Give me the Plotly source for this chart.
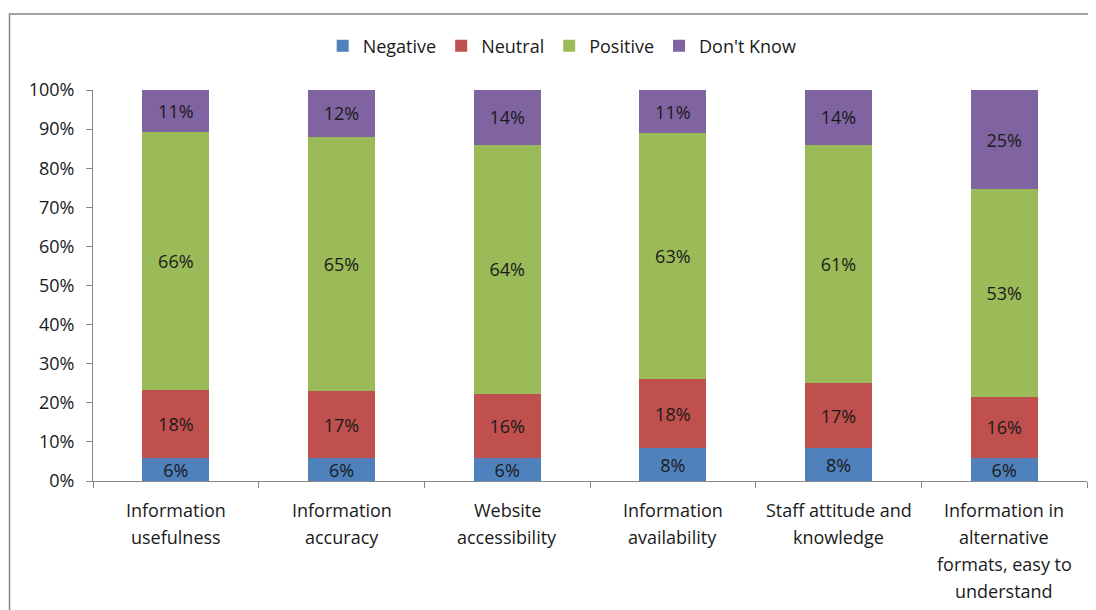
import plotly.graph_objects as go

categories = [
    "Information usefulness",
    "Information accuracy",
    "Website accessibility",
    "Information availability",
    "Staff attitude and knowledge",
    "Information in alternative formats, easy to understand",
]
label_lines = [
    ["Information", "usefulness"],
    ["Information", "accuracy"],
    ["Website", "accessibility"],
    ["Information", "availability"],
    ["Staff attitude and", "knowledge"],
    ["Information in", "alternative", "formats, easy to", "understand"],
]
negative = [5.8, 5.8, 5.8, 8.4, 8.4, 5.8]
neutral = [17.6, 17.1, 16.4, 17.6, 16.7, 15.8]
positive = [65.9, 65.2, 63.8, 63.0, 60.9, 53.0]
dont_know = [10.7, 11.9, 14.0, 11.0, 14.0, 25.4]

series = [
    ("Negative", negative, "#4F81BD"),
    ("Neutral", neutral, "#C0504D"),
    ("Positive", positive, "#9BBB59"),
    ("Don't Know", dont_know, "#8064A2"),
]

FONT = "Open Sans"
FS = 18
TXT = "#1a1a1a"
fig = go.Figure()
for name, vals, col in series:
    fig.add_trace(go.Bar(
        name=name, x=categories, y=vals,
        marker=dict(color=col, line=dict(width=0)),
        text=[f"{v:.0f}%" for v in vals],
        textposition="inside", insidetextanchor="middle",
        constraintext="none",
        textfont=dict(family=FONT, size=FS, color=TXT),
        hoverinfo="skip",
    ))

annotations = []
for cat, lines in zip(categories, label_lines):
    for i, ln in enumerate(lines):
        annotations.append(dict(
            x=cat, xref="x", y=0, yref="paper", yanchor="middle",
            yshift=-29 - 27 * i, text=ln, showarrow=False,
            font=dict(family=FONT, size=FS, color=TXT),
        ))

fig.update_layout(
    width=1088, height=602,
    barmode="stack", bargap=0.595,
    paper_bgcolor="white", plot_bgcolor="white",
    margin=dict(l=85, r=9, t=82, b=129),
    font=dict(family=FONT, size=FS, color=TXT),
    legend=dict(orientation="h", x=0.472, xanchor="center", y=1.1125, yanchor="middle",
                font=dict(family=FONT, size=FS, color=TXT),
                itemwidth=30, traceorder="normal"),
    xaxis=dict(showticklabels=False, tickson="boundaries", ticks="outside", ticklen=6,
               tickcolor="#878787", showline=True, linecolor="#878787", linewidth=1,
               showgrid=False),
    yaxis=dict(range=[0, 100], dtick=10, ticksuffix="%", ticks="outside", ticklen=6,
               tickcolor="#878787", showline=True, linecolor="#878787", linewidth=1,
               showgrid=False, zeroline=False, ticklabelstandoff=8,
               tickfont=dict(family=FONT, size=FS, color=TXT)),
    annotations=annotations,
    shapes=[dict(type="rect", xref="paper", yref="paper",
                 x0=(9.5 - 93) / 994, x1=1.1, y0=-0.6, y1=1 + (90 - 14) / 391,
                 line=dict(color="#878787", width=1.5), fillcolor="rgba(0,0,0,0)")],
)

fig.write_html("out.html")
